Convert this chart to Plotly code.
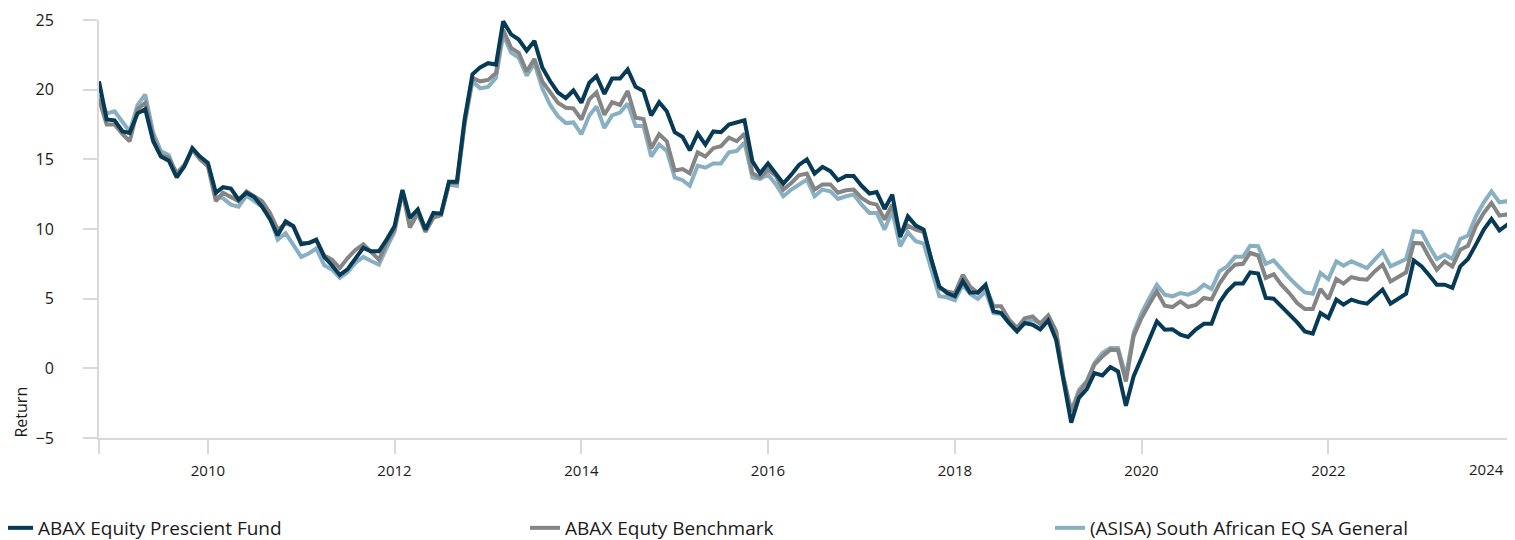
import pandas as pd
import plotly.graph_objects as go

# Monthly observations, Nov 2008 .. Jan 2024
dates = pd.date_range("2008-11-01", periods=183, freq="MS")

fund = [
    20.6, 17.86, 17.8, 17.0, 16.9, 18.3, 18.6, 16.3, 15.2, 14.9,
    13.7, 14.5, 15.8, 15.2, 14.75, 12.6, 13.0, 12.9, 12.1, 12.6,
    12.3, 11.6, 10.7, 9.55, 10.55, 10.2, 8.9, 9.0, 9.24, 8.0,
    7.4, 6.7, 7.1, 7.9, 8.65, 8.4, 8.4, 9.24, 10.2, 12.8,
    10.8, 11.4, 9.96, 11.15, 11.1, 13.4, 13.4, 17.86, 21.1, 21.6,
    21.9, 21.8, 24.9, 23.97, 23.6, 22.8, 23.5, 21.6, 20.6, 19.8,
    19.4, 19.94, 19.06, 20.5, 20.97, 19.7, 20.8, 20.8, 21.45, 20.2,
    19.9, 18.15, 19.1, 18.45, 16.95, 16.6, 15.65, 16.85, 16.06, 17.0,
    16.95, 17.5, 17.65, 17.8, 14.86, 14.0, 14.7, 14.0, 13.26, 13.9,
    14.6, 15.0, 13.98, 14.46, 14.15, 13.5, 13.8, 13.8, 13.1, 12.55,
    12.65, 11.44, 12.47, 9.43, 10.9, 10.24, 9.96, 7.8, 5.88, 5.4,
    5.17, 6.25, 5.45, 5.45, 6.0, 4.1, 3.97, 3.25, 2.65, 3.25,
    3.13, 2.8, 3.44, 2.05, -0.82, -3.9, -2.13, -1.49, -0.34, -0.51,
    0.09, -0.22, -2.69, -0.58, 0.74, 2.05, 3.37, 2.77, 2.8, 2.41,
    2.25, 2.8, 3.2, 3.2, 4.73, 5.52, 6.08, 6.08, 6.89, 6.8,
    5.05, 5.0, 4.45, 3.85, 3.3, 2.65, 2.49, 3.97, 3.61, 4.93,
    4.57, 4.93, 4.75, 4.64, 5.17, 5.65, 4.64, 4.98, 5.36, 7.75,
    7.32, 6.65, 6.0, 6.0, 5.77, 7.32, 7.85, 8.88, 9.96, 10.72,
    9.9, 10.3, 9.67,
]

benchmark = [
    19.3, 17.5, 17.5, 16.8, 16.3, 18.6, 19.05, 16.6, 15.3, 15.1,
    14.0, 14.6, 15.7, 15.0, 14.5, 12.0, 12.6, 12.3, 12.0, 12.7,
    12.35, 12.0, 11.15, 9.95, 10.4, 10.2, 9.0, 9.0, 9.2, 8.1,
    7.8, 7.2, 7.9, 8.5, 8.9, 8.4, 7.8, 9.0, 9.96, 12.7,
    10.1, 11.15, 9.8, 10.8, 11.0, 13.3, 13.3, 17.6, 20.85, 20.6,
    20.7, 21.2, 24.3, 23.0, 22.65, 21.3, 22.2, 20.6, 19.8, 19.06,
    18.7, 18.65, 17.86, 19.3, 19.8, 18.2, 19.1, 18.9, 19.9, 17.98,
    17.9, 15.8, 16.8, 16.3, 14.2, 14.3, 14.0, 15.5, 15.2, 15.8,
    15.95, 16.55, 16.3, 16.85, 14.0, 13.7, 14.27, 13.8, 12.83, 13.3,
    13.85, 13.98, 12.83, 13.2, 13.2, 12.6, 12.78, 12.83, 12.23, 11.87,
    11.75, 10.68, 11.75, 9.6, 10.24, 9.96, 9.77, 7.68, 5.77, 5.52,
    5.4, 6.72, 5.88, 5.4, 5.88, 4.45, 4.45, 3.5, 2.9, 3.6,
    3.73, 3.2, 3.78, 2.65, -0.58, -3.1, -1.77, -0.94, 0.26, 0.86,
    1.34, 1.3, -0.94, 2.29, 3.61, 4.64, 5.52, 4.5, 4.4, 4.8,
    4.4, 4.55, 5.05, 4.95, 6.08, 6.89, 7.44, 7.5, 8.28, 8.1,
    6.49, 6.75, 6.0, 5.4, 4.69, 4.26, 4.26, 5.7, 4.98, 6.41,
    6.08, 6.55, 6.41, 6.36, 6.96, 7.44, 6.24, 6.55, 6.89, 9.0,
    8.96, 7.92, 7.08, 7.68, 7.3, 8.52, 8.8, 10.2, 11.15, 11.87,
    10.96, 11.05, 10.44,
]

asisa = [
    19.6, 18.3, 18.45, 17.7, 17.0, 18.9, 19.65, 16.9, 15.6, 15.3,
    13.8, 14.5, 15.7, 15.1, 14.6, 12.4, 12.2, 11.75, 11.6, 12.4,
    12.0, 11.6, 10.8, 9.24, 9.7, 8.9, 8.0, 8.26, 8.6, 7.4,
    7.1, 6.5, 6.9, 7.56, 8.0, 7.7, 7.45, 8.65, 9.8, 12.7,
    10.4, 11.2, 9.8, 10.9, 11.0, 13.2, 13.1, 17.5, 20.6, 20.1,
    20.2, 20.85, 23.97, 22.65, 22.3, 21.0, 21.9, 20.1, 18.9, 18.1,
    17.6, 17.65, 16.8, 18.15, 18.8, 17.25, 18.15, 18.35, 19.0, 17.4,
    17.4, 15.2, 16.06, 15.6, 13.7, 13.5, 13.1, 14.55, 14.4, 14.7,
    14.7, 15.5, 15.6, 16.2, 13.7, 13.6, 13.9, 13.2, 12.35, 12.83,
    13.2, 13.55, 12.35, 12.83, 12.7, 12.16, 12.35, 12.47, 11.75, 11.15,
    11.15, 9.96, 11.27, 8.76, 9.77, 9.12, 8.95, 7.08, 5.17, 5.1,
    4.88, 6.0, 5.35, 4.98, 5.52, 3.97, 3.92, 3.25, 2.65, 3.37,
    3.5, 3.2, 3.78, 2.65, -0.58, -3.1, -1.54, -0.94, 0.38, 1.1,
    1.46, 1.46, -0.58, 2.53, 3.97, 5.05, 6.0, 5.29, 5.17, 5.4,
    5.29, 5.52, 6.0, 5.7, 6.96, 7.32, 8.0, 8.0, 8.8, 8.77,
    7.5, 7.75, 7.08, 6.49, 5.93, 5.45, 5.36, 6.84, 6.41, 7.68,
    7.36, 7.68, 7.44, 7.2, 7.8, 8.4, 7.32, 7.6, 7.85, 9.84,
    9.77, 8.71, 7.85, 8.16, 7.85, 9.29, 9.53, 10.9, 11.92, 12.7,
    11.92, 12.0, 11.27,
]

series_names = ["ABAX Equity Prescient Fund", "ABAX Equty Benchmark",
                "(ASISA) South African EQ SA General"]
series_colors = ["#063a55", "#858585", "#88b0c2"]

x_tick_dates = ["2008-11-01", "2010-01-01", "2012-01-01", "2014-01-01", "2016-01-01",
                "2018-01-01", "2020-01-01", "2022-01-01", "2024-01-01"]
x_tick_text = ["", "2010", "2012", "2014", "2016", "2018", "2020", "2022", ""]
last_tick_label = "2024"
y_ticks = [-5, 0, 5, 10, 15, 20, 25]

FONT = "Open Sans"
TEXT = "#1a1a1a"
AXIS_GREY = "#d9d9d9"

# The page body has an 8px margin, so the figure is 8px smaller than the window.
W, H = 1507, 532
ML, MT, MB, MR = 91, 12, 102, 0
plot_w = W - ML - MR
plot_h = H - MT - MB

fig = go.Figure()
traces = [
    (series_names[2], asisa, series_colors[2], "legend3"),
    (series_names[1], benchmark, series_colors[1], "legend2"),
    (series_names[0], fund, series_colors[0], "legend"),
]
for name, vals, color, leg in traces:
    fig.add_trace(go.Scatter(x=dates, y=vals, mode="lines", name=name,
                             line=dict(color=color, width=4), legend=leg))

legend_text_x = [41, 568, 1093]   # screen x where each legend text starts
def legend_cfg(tx):
    return dict(orientation="h", x=(tx - 43 - (ML + 8)) / plot_w, xanchor="left",
                y=-90 / plot_h, yanchor="middle", bgcolor="rgba(0,0,0,0)",
                font=dict(family=FONT, size=19, color=TEXT), itemwidth=30)

fig.update_layout(
    width=W, height=H,
    margin=dict(l=ML, r=MR, t=MT, b=MB, autoexpand=False),
    paper_bgcolor="white", plot_bgcolor="white",
    font=dict(family=FONT, size=16, color=TEXT),
    showlegend=True,
    legend=legend_cfg(legend_text_x[0]),
    legend2=legend_cfg(legend_text_x[1]),
    legend3=legend_cfg(legend_text_x[2]),
)

fig.update_xaxes(
    type="date", range=[dates[0], dates[-1]], automargin=False,
    tickmode="array", tickvals=x_tick_dates, ticktext=x_tick_text,
    showline=True, linecolor=AXIS_GREY, linewidth=2,
    ticks="outside", ticklen=14, tickwidth=2, tickcolor=AXIS_GREY,
    showgrid=False, zeroline=False, ticklabelstandoff=4,
    tickfont=dict(family=FONT, size=15, color=TEXT),
)
fig.update_yaxes(
    range=[-5, 25], tickmode="array", tickvals=y_ticks, automargin=False,
    showline=True, linecolor=AXIS_GREY, linewidth=2,
    ticks="outside", ticklen=14, tickwidth=2, tickcolor=AXIS_GREY,
    showgrid=False, zeroline=False, ticklabelstandoff=26,
    tickfont=dict(family=FONT, size=16, color=TEXT),
)

fig.add_annotation(text=last_tick_label, xref="paper", yref="paper", x=1, y=0,
                   xanchor="right", yanchor="middle", xshift=-9, yshift=-31,
                   showarrow=False, font=dict(family=FONT, size=15, color=TEXT))
fig.add_annotation(text="Return", xref="paper", yref="y", x=0, y=-5,
                   xanchor="center", yanchor="bottom", xshift=-79, yshift=-2,
                   textangle=-90, showarrow=False,
                   font=dict(family=FONT, size=16, color=TEXT))

fig.write_html("out.html")
